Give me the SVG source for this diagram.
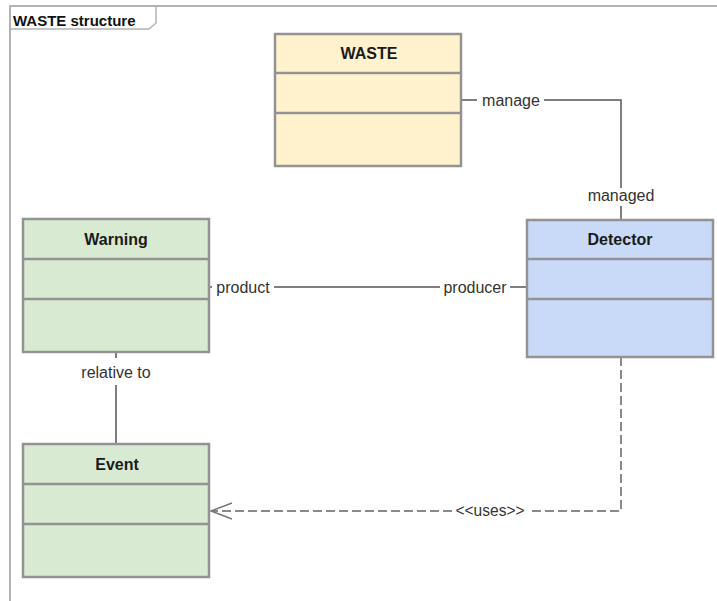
<svg xmlns="http://www.w3.org/2000/svg" width="717" height="601" viewBox="0 0 717 601">
<defs>
<style>
.box{stroke:#939393;stroke-width:2.5}
.div{stroke:#939393;stroke-width:2.5}
.title{font-family:"Liberation Sans",Arial,sans-serif;font-size:16px;font-weight:bold;fill:#1a1a1a;text-anchor:middle}
.lbl{font-family:"Liberation Sans",Arial,sans-serif;font-size:16px;fill:#333;text-anchor:middle}
.conn{stroke:#555;stroke-width:1.5;fill:none}
.dash{stroke:#8a8a8a;stroke-width:2;fill:none;stroke-dasharray:9,4}
</style>
</defs>
<rect width="717" height="601" fill="#fff"/>
<g id="frame">
<path d="M10,601 V6 H717" fill="none" stroke="#b3b3b3" stroke-width="2"/>
<path d="M10,29 H149 L156,23 V6" fill="none" stroke="#b3b3b3" stroke-width="1.5"/>
<text x="13" y="26" style="font-family:'Liberation Sans',Arial,sans-serif;font-size:15px;font-weight:bold;fill:#111">WASTE structure</text>
</g>
<g id="connectors">
<path class="conn" d="M461,100 H477"/>
<path class="conn" d="M544,100 H621 V188"/>
<path class="conn" d="M621,206 V220"/>
<text class="lbl" x="511" y="106">manage</text>
<text class="lbl" x="621" y="201">managed</text>
<path class="conn" d="M209,287 H212"/>
<path class="conn" d="M274,287 H440"/>
<path class="conn" d="M510,287 H527"/>
<text class="lbl" x="243" y="293">product</text>
<text class="lbl" x="475" y="293">producer</text>
<path class="conn" d="M116,352 V358"/>
<path class="conn" d="M116,385 V444"/>
<text class="lbl" x="116" y="378">relative to</text>
<path class="dash" d="M621,357 V511 H528"/>
<path class="dash" d="M452,511 H212"/>
<path d="M232,503 L211,511 L232,519" fill="none" stroke="#777" stroke-width="1.5"/>
<text class="lbl" x="490" y="516" font-size="15" textLength="69" lengthAdjust="spacingAndGlyphs">&lt;&lt;uses&gt;&gt;</text>
</g>
<g id="WASTE">
<rect class="box" x="275" y="34" width="186" height="132" fill="#fff2cc"/>
<path class="div" d="M275,73 H461 M275,113 H461"/>
<text class="title" x="369" y="59">WASTE</text>
</g>
<g id="Detector">
<rect class="box" x="527" y="220" width="186" height="137" fill="#c9daf8"/>
<path class="div" d="M527,259 H713 M527,299 H713"/>
<text class="title" x="620" y="245">Detector</text>
</g>
<g id="Warning">
<rect class="box" x="23" y="219" width="186" height="133" fill="#d9ead3"/>
<path class="div" d="M23,259 H209 M23,299 H209"/>
<text class="title" x="116" y="245">Warning</text>
</g>
<g id="Event">
<rect class="box" x="23" y="444" width="186" height="133" fill="#d9ead3"/>
<path class="div" d="M23,484 H209 M23,524 H209"/>
<text class="title" x="117" y="470">Event</text>
</g>
</svg>
